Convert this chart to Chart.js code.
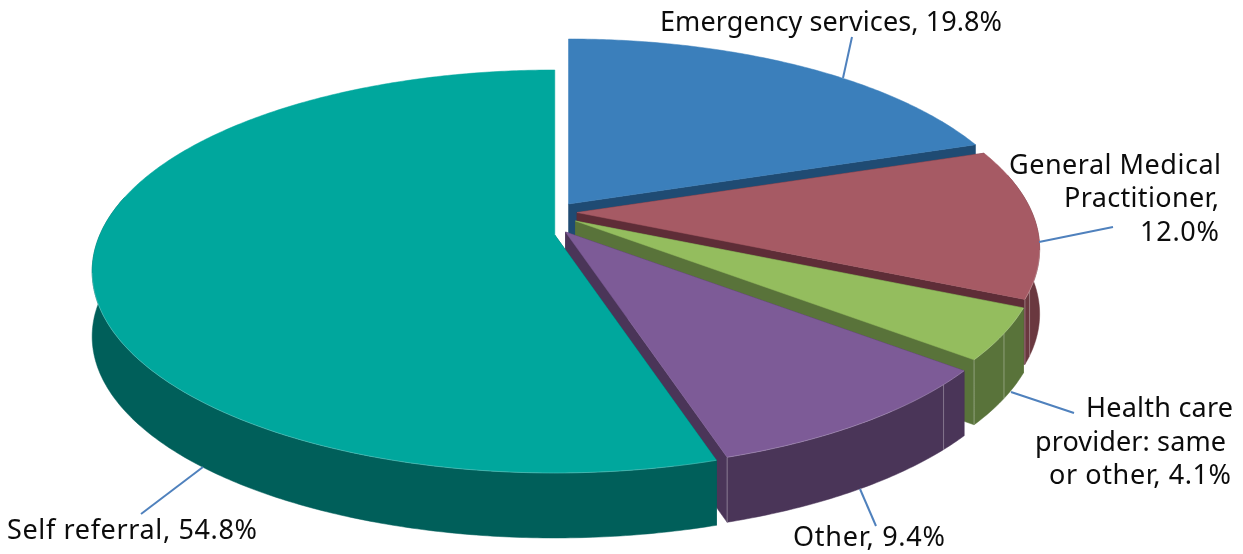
<!DOCTYPE html>
<html><head><meta charset="utf-8">
<style>html,body{margin:0;padding:0;background:#fff}#box{width:1243px;height:554px;position:relative}</style>
<script src="https://cdn.jsdelivr.net/npm/chart.js@4"></script>
</head><body><div id="box"><canvas id="c" width="1243" height="554"></canvas></div>
<script>
const categories = ["Emergency services","General Medical Practitioner","Health care provider: same or other","Other","Self referral"];
const shares = [19.8,12.0,4.1,9.4,54.8];
const topColours = ["#3B7FBB","#A65A64","#94BD5E","#7D5B97","#00A79D"];
const sideColours = ["#1F4B73","#5E2D37","#59733A","#4A3558","#005F5A"];
const wallColours = ["#1F4B73","#6A383F","#59733A","#4A3558","#005F5A"];
const apexX = [568.5,577,575.5,565.5,554.8];
const apexY = [204,212.5,221,232,235];
const seamDegrees = [[],[112],[121.5],[133.3],[]];
const labelLines = [
  {t:"Emergency services, 19.8%",x0:660,x1:1002,y:31},
  {t:"General Medical",x0:1009,x1:1221,y:174},
  {t:"Practitioner,",x0:1064,x1:1219,y:207},
  {t:"12.0%",x0:1140,x1:1219,y:241},
  {t:"Health care",x0:1086,x1:1233,y:417},
  {t:"provider: same",x0:1035,x1:1226,y:451},
  {t:"or other, 4.1%",x0:1049,x1:1231,y:484},
  {t:"Other, 9.4%",x0:793,x1:945,y:546},
  {t:"Self referral, 54.8%",x0:7,x1:257,y:539}
];
const leaders = [[843,78,852,37],[1039,242,1113,227],[1011,392,1074,413],[860,489,876,526],[203,467,141,514]];

const K=0.181, RX=455, RY=194.9, DEPTH=65;
function project(i,theta,r,z){
  const u=r*Math.sin(theta), v=-r*Math.cos(theta), s=1/(1-K*v);
  return [apexX[i]+RX*u*s, apexY[i]+RY*v*s+z];
}
class Arc3D extends Chart.ArcElement{
  draw(ctx){
    const i=this.sliceIndex;
    const {startAngle,endAngle}=this.getProps(['startAngle','endAngle']);
    const a0=startAngle+Math.PI/2,a1=endAngle+Math.PI/2;
    const n=Math.max(8,Math.ceil((a1-a0)/0.01));
    const rim=[];for(let k=0;k<=n;k++)rim.push(a0+(a1-a0)*k/n);
    const poly=(pts,fill)=>{ctx.beginPath();pts.forEach((p,j)=>j?ctx.lineTo(p[0],p[1]):ctx.moveTo(p[0],p[1]));ctx.closePath();ctx.fillStyle=fill;ctx.fill();ctx.strokeStyle=fill;ctx.lineWidth=0.5;ctx.stroke();};
    const side=sideColours[i], wall=wallColours[i];
    const A=project(i,0,0,0),Az=project(i,0,0,DEPTH);
    const atBack=t=>Math.cos(t)>0.999;
    if(!atBack(a0))poly([A,project(i,a0,1,0),project(i,a0,1,DEPTH),Az],side);
    if(!atBack(a1))poly([A,project(i,a1,1,0),project(i,a1,1,DEPTH),Az],side);
    const seen=rim.filter(t=>-Math.cos(t)>-0.2);
    if(seen.length>1){
      poly(seen.map(t=>project(i,t,1,0)).concat(seen.slice().reverse().map(t=>project(i,t,1,DEPTH))),wall);
    }
    ctx.strokeStyle="rgba(255,255,255,0.32)";ctx.lineWidth=1;
    const vline=t=>{const a=project(i,t,1,0),b=project(i,t,1,DEPTH);ctx.beginPath();ctx.moveTo(a[0],a[1]);ctx.lineTo(b[0],b[1]);ctx.stroke();};
    seamDegrees[i].forEach(d=>vline(d*Math.PI/180));
    if(i>=1&&i<=3)vline(a1);
    const top=[A].concat(rim.map(t=>project(i,t,1,0)));
    poly(top,topColours[i]);
    const front=rim.filter(t=>-Math.cos(t)>0.18);
    ctx.beginPath();front.forEach((t,j)=>{const p=project(i,t,1,0);j?ctx.lineTo(p[0],p[1]):ctx.moveTo(p[0],p[1]);});
    ctx.strokeStyle="rgba(255,255,255,0.3)";ctx.lineWidth=0.7;ctx.stroke();
  }
}
Arc3D.id='arc3d';
class Pie3D extends Chart.PieController{
  draw(){
    const ctx=this.chart.ctx;
    this._cachedMeta.data.forEach((el,i)=>{el.sliceIndex=i;el.draw(ctx);});
  }
}
Pie3D.id='pie3d';
Pie3D.defaults={dataElementType:'arc3d'};
Chart.register(Arc3D,Pie3D);

const labelsPlugin={id:'calloutLabels',afterDatasetsDraw(chart){
  const ctx=chart.ctx;ctx.save();
  ctx.strokeStyle="#4F81BD";ctx.lineWidth=2;
  leaders.forEach(l=>{ctx.beginPath();ctx.moveTo(l[0],l[1]);ctx.lineTo(l[2],l[3]);ctx.stroke();});
  ctx.fillStyle="#0c0c0c";ctx.font='27px "Noto Sans"';ctx.textAlign="left";ctx.textBaseline="alphabetic";
  labelLines.forEach(l=>{
    ctx.letterSpacing="0px";
    const w=ctx.measureText(l.t).width;
    ctx.letterSpacing=((l.x1-l.x0-w)/(l.t.length-1)).toFixed(3)+"px";
    ctx.fillText(l.t,l.x0,l.y);
  });
  ctx.restore();
}};
new Chart(document.getElementById('c'),{
  type:'pie3d',
  data:{labels:categories,datasets:[{data:shares,backgroundColor:topColours,borderWidth:0}]},
  options:{responsive:false,animation:false,events:[],plugins:{legend:{display:false},tooltip:{enabled:false}}},
  plugins:[labelsPlugin]
});
</script></body></html>
